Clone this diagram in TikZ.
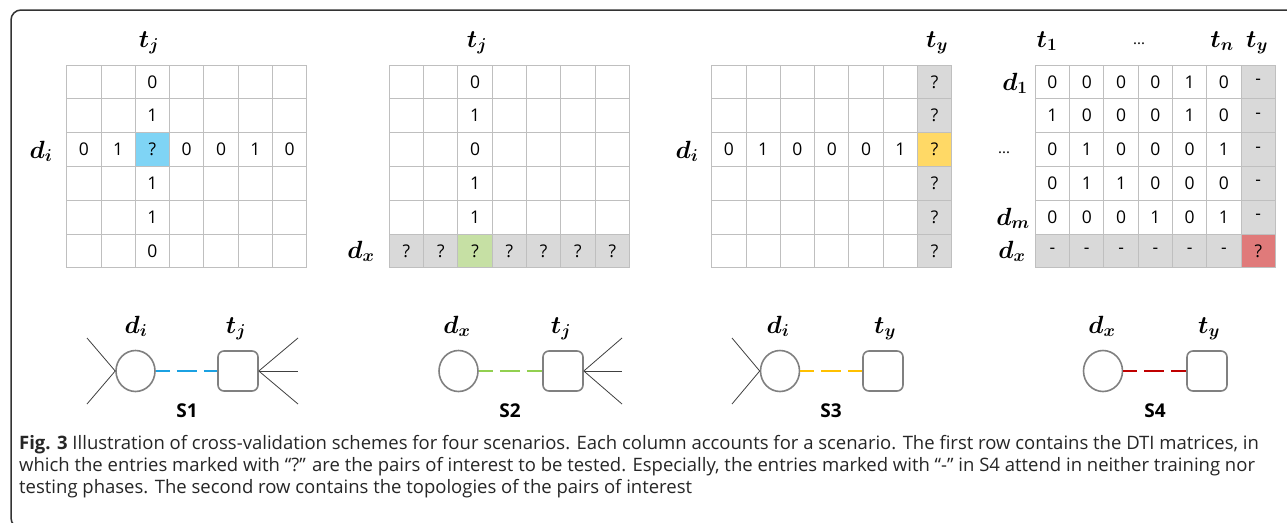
\documentclass[tikz,border=0pt]{standalone}
\usepackage{fontspec}
\setmainfont{Open Sans}
\setsansfont{Open Sans}
\usepackage{bm}
\usetikzlibrary{positioning,shapes.geometric,backgrounds}
\definecolor{gridgray}{HTML}{BFBFBF}
\definecolor{cellgray}{HTML}{D9D9D9}
\definecolor{qblue}{HTML}{7FD4F5}
\definecolor{qgreen}{HTML}{C6E0A4}
\definecolor{qyellow}{HTML}{FFD966}
\definecolor{qred}{HTML}{E07A7A}
\definecolor{eblue}{HTML}{1BA1E2}
\definecolor{egreen}{HTML}{92D050}
\definecolor{eyellow}{HTML}{FFC000}
\definecolor{ered}{HTML}{C00000}
\definecolor{nodegray}{HTML}{808080}
\definecolor{framegray}{HTML}{333333}
\newcommand{\nv}{}

\begin{document}
\begin{tikzpicture}[x=1pt,y=-1pt,
cell/.style={draw=gridgray,line width=1pt,minimum width=34.3pt,minimum height=33.8pt,
inner sep=0pt,outer sep=0pt,font=\sffamily\fontsize{17.5}{17.5}\selectfont,text=black},
lab/.style={inner sep=0pt,anchor=base,font=\fontsize{23}{26}\selectfont},
drug/.style={ellipse,draw=nodegray,line width=1.6pt,minimum width=39pt,minimum height=41pt,inner sep=0pt},
target/.style={rectangle,rounded corners=6pt,draw=nodegray,line width=1.6pt,
minimum width=40pt,minimum height=40pt,inner sep=0pt},
link/.style={line width=2pt,dash pattern=on 20pt off 7pt,dash phase=6pt},
spoke/.style={black!75,line width=0.8pt},
scen/.style={font=\sffamily\bfseries\fontsize{19}{19}\selectfont,inner sep=0pt}
]
\useasboundingbox (0,0) rectangle (1287,522);
\clip (0,0) rectangle (1287,522);
\draw[framegray,line width=1.5pt,rounded corners=10pt] (11,10) rectangle (1320,528);

% S1 matrix
\foreach \vals [count=\r] in {{\nv,\nv,0,\nv,\nv,\nv,\nv},{\nv,\nv,1,\nv,\nv,\nv,\nv},{0,1,?,0,0,1,0},
{\nv,\nv,1,\nv,\nv,\nv,\nv},{\nv,\nv,1,\nv,\nv,\nv,\nv},{\nv,\nv,0,\nv,\nv,\nv,\nv}}
  \foreach \v [count=\c] in \vals
    \node[cell] (s1-\r-\c) at (66.7+34.3*\c-17.15,65+33.8*\r-16.9) {\v};
% S2 matrix
\foreach \vals [count=\r] in {{\nv,\nv,0,\nv,\nv,\nv,\nv},{\nv,\nv,1,\nv,\nv,\nv,\nv},{\nv,\nv,0,\nv,\nv,\nv,\nv},
{\nv,\nv,1,\nv,\nv,\nv,\nv},{\nv,\nv,1,\nv,\nv,\nv,\nv},{?,?,?,?,?,?,?}}
  \foreach \v [count=\c] in \vals
    \node[cell] (s2-\r-\c) at (389.3+34.3*\c-17.15,65+33.8*\r-16.9) {\v};
% S3 matrix
\foreach \vals [count=\r] in {{\nv,\nv,\nv,\nv,\nv,\nv,?},{\nv,\nv,\nv,\nv,\nv,\nv,?},{0,1,0,0,0,1,?},
{\nv,\nv,\nv,\nv,\nv,\nv,?},{\nv,\nv,\nv,\nv,\nv,\nv,?},{\nv,\nv,\nv,\nv,\nv,\nv,?}}
  \foreach \v [count=\c] in \vals
    \node[cell] (s3-\r-\c) at (711.7+34.3*\c-17.15,65+33.8*\r-16.9) {\v};
% S4 matrix
\foreach \vals [count=\r] in {{0,0,0,0,1,0,-},{1,0,0,0,1,0,-},{0,1,0,0,0,1,-},
{0,1,1,0,0,0,-},{0,0,0,1,0,1,-},{-,-,-,-,-,-,?}}
  \foreach \v [count=\c] in \vals
    \node[cell] (s4-\r-\c) at (1035.3+34.3*\c-17.15,65+33.8*\r-16.9) {\v};

\begin{scope}[on background layer]
\fill[white] (0,0) rectangle (1287,522);
\fill[qblue] (s1-3-3.north west) rectangle (s1-3-3.south east);
\fill[cellgray] (s2-6-1.north west) rectangle (s2-6-7.south east);
\fill[qgreen] (s2-6-3.north west) rectangle (s2-6-3.south east);
\fill[cellgray] (s3-1-7.north west) rectangle (s3-6-7.south east);
\fill[qyellow] (s3-3-7.north west) rectangle (s3-3-7.south east);
\fill[cellgray] (s4-1-7.north west) rectangle (s4-6-7.south east);
\fill[cellgray] (s4-6-1.north west) rectangle (s4-6-6.south east);
\fill[qred] (s4-6-7.north west) rectangle (s4-6-7.south east);
\end{scope}

% row and column labels
\node[lab] (s1-tj) at (149,47) {$\bm{t_j}$};
\node[lab] (s1-di) at (41,158) {$\bm{d_i}$};
\node[lab] (s2-tj) at (477,47) {$\bm{t_j}$};
\node[lab] (s2-dx) at (361,258) {$\bm{d_x}$};
\node[lab] (s3-ty) at (937,47) {$\bm{t_y}$};
\node[lab] (s3-di) at (687,158) {$\bm{d_i}$};
\node[lab] (s4-t1) at (1047,47) {$\bm{t_1}$};
\node[lab,font=\sffamily\fontsize{15}{15}\selectfont] (s4-tdots) at (1139,44) {...};
\node[lab] (s4-tn) at (1222,47) {$\bm{t_n}$};
\node[lab] (s4-ty) at (1257,47) {$\bm{t_y}$};
\node[lab] (s4-d1) at (1015,90) {$\bm{d_1}$};
\node[lab,font=\sffamily\fontsize{15}{15}\selectfont] (s4-ddots) at (1004,153) {...};
\node[lab] (s4-dm) at (1013,225) {$\bm{d_m}$};
\node[lab] (s4-dx) at (1012,258) {$\bm{d_x}$};

% topologies
\node[drug] (g1-d) at (135.5,371) {};
\node[target] (g1-t) at (238,371) {};
\node[lab] (g1-dl) at (136,333) {$\bm{d_i}$};
\node[lab] (g1-tl) at (236,333) {$\bm{t_j}$};
\draw[link,eblue] (g1-d) -- (g1-t);
\coordinate (g1-a) at (87,338);  \coordinate (g1-b) at (87,404);
\coordinate (g1-c) at (298,338); \coordinate (g1-e) at (298,371); \coordinate (g1-f) at (298,404);
\draw[spoke] (g1-d.west) -- (g1-a);  \draw[spoke] (g1-d.west) -- (g1-b);
\draw[spoke] (g1-t.east) -- (g1-c);  \draw[spoke] (g1-t.east) -- (g1-e);  \draw[spoke] (g1-t.east) -- (g1-f);
\node[scen] (g1-s) at (187,411) {S1};

\node[drug] (g2-d) at (458.5,371) {};
\node[target] (g2-t) at (563,371) {};
\node[lab] (g2-dl) at (457,333) {$\bm{d_x}$};
\node[lab] (g2-tl) at (561,333) {$\bm{t_j}$};
\draw[link,egreen] (g2-d) -- (g2-t);
\coordinate (g2-c) at (622,338); \coordinate (g2-e) at (622,371); \coordinate (g2-f) at (622,404);
\draw[spoke] (g2-t.east) -- (g2-c);  \draw[spoke] (g2-t.east) -- (g2-e);  \draw[spoke] (g2-t.east) -- (g2-f);
\node[scen] (g2-s) at (510,411) {S2};

\node[drug] (g3-d) at (780,371) {};
\node[target] (g3-t) at (883,371) {};
\node[lab] (g3-dl) at (778,333) {$\bm{d_i}$};
\node[lab] (g3-tl) at (885,333) {$\bm{t_y}$};
\draw[link,eyellow] (g3-d) -- (g3-t);
\coordinate (g3-a) at (732,338);  \coordinate (g3-b) at (732,404);
\draw[spoke] (g3-d.west) -- (g3-a);  \draw[spoke] (g3-d.west) -- (g3-b);
\node[scen] (g3-s) at (831,411) {S3};

\node[drug] (g4-d) at (1103,371) {};
\node[target] (g4-t) at (1207,371) {};
\node[lab] (g4-dl) at (1102,333) {$\bm{d_x}$};
\node[lab] (g4-tl) at (1209,333) {$\bm{t_y}$};
\draw[link,ered] (g4-d) -- (g4-t);
\node[scen] (g4-s) at (1155,411) {S4};

% caption
\node[anchor=north west,align=left,inner sep=0pt,text=black!85,
font=\fontsize{18.5}{22}\selectfont] (cap) at (19,435.5)
{\textbf{Fig. 3} Illustration of cross-validation schemes for four scenarios. Each column accounts for a scenario. The first row contains the DTI matrices, in\\
which the entries marked with “?” are the pairs of interest to be tested. Especially, the entries marked with “-” in S4 attend in neither training nor\\
testing phases. The second row contains the topologies of the pairs of interest};
\end{tikzpicture}
\end{document}
